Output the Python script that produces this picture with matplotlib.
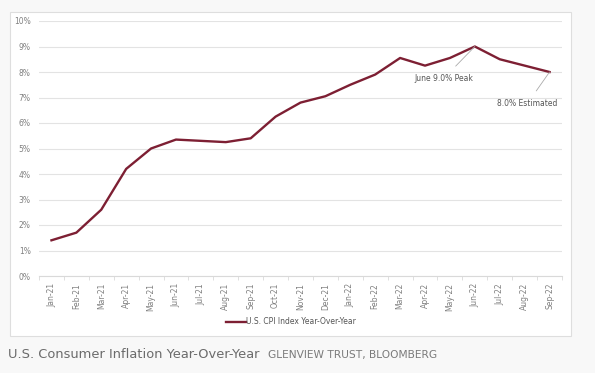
import matplotlib.pyplot as plt
from matplotlib.patches import Rectangle

months = ["Jan-21", "Feb-21", "Mar-21", "Apr-21", "May-21", "Jun-21", "Jul-21",
          "Aug-21", "Sep-21", "Oct-21", "Nov-21", "Dec-21", "Jan-22", "Feb-22",
          "Mar-22", "Apr-22", "May-22", "Jun-22", "Jul-22", "Aug-22", "Sep-22"]
cpi = [1.4, 1.7, 2.6, 4.2, 5.0, 5.35, 5.3, 5.25, 5.4, 6.25, 6.8, 7.05, 7.5, 7.9,
       8.55, 8.25, 8.55, 9.0, 8.5, 8.25, 8.0]
yticks = list(range(0, 11))

line_col = "#7d1f33"
gray = "#808080"

fig = plt.figure(figsize=(5.95, 3.73), dpi=100)
fig.patch.set_facecolor("#f8f8f8")

# white chart panel
W, H = 595, 373
fig.patches.append(Rectangle((10 / W, 1 - 336 / H), 561 / W, 324 / H,
                             transform=fig.transFigure, facecolor="white",
                             edgecolor="#dedede", linewidth=0.8, zorder=-5))

ax = fig.add_axes([39 / W, 1 - 276 / H, 523 / W, 255 / H])
ax.set_zorder(2)
ax.set_facecolor("white")
x = list(range(len(months)))
ax.plot(x, cpi, color=line_col, linewidth=1.7, label="U.S. CPI Index Year-Over-Year",
        zorder=3)

ax.set_xlim(-0.5, len(months) - 0.5)
ax.set_ylim(0, 10)
ax.set_yticks(yticks)
ax.set_yticklabels([f"{t}%" for t in yticks], fontsize=5.5, color=gray)
ax.set_xticks(x)
ax.set_xticklabels(months, rotation=90, fontsize=5.5, color=gray)
ax.set_xticks([i - 0.5 for i in range(len(months) + 1)], minor=True)
ax.tick_params(axis="x", which="major", length=0, pad=5)
ax.tick_params(axis="x", which="minor", length=3, color="#d9d9d9")
ax.tick_params(axis="y", length=0, pad=6)
ax.grid(axis="y", color="#e3e3e3", linewidth=0.8)
ax.set_axisbelow(True)
for s in ["top", "right", "left"]:
    ax.spines[s].set_visible(False)
ax.spines["bottom"].set_color("#d9d9d9")

ax.annotate("June 9.0% Peak", xy=(17, 9.0), xytext=(15.75, 7.75),
            fontsize=5.5, color="#555555", ha="center", va="center",
            arrowprops=dict(arrowstyle="-", color="#aaaaaa", linewidth=0.6,
                            shrinkA=5, shrinkB=0))
ax.annotate("8.0% Estimated", xy=(20, 8.0), xytext=(19.1, 6.75),
            fontsize=5.5, color="#555555", ha="center", va="center",
            arrowprops=dict(arrowstyle="-", color="#aaaaaa", linewidth=0.6,
                            shrinkA=5, shrinkB=0))

fig.legend(loc="center", bbox_to_anchor=(291 / W, 1 - 322 / H), frameon=False,
           fontsize=5.5, labelcolor="#555555", handlelength=2.6, handletextpad=0.1)

fig.text(8 / W, 1 - 355 / H, "U.S. Consumer Inflation Year-Over-Year",
         fontsize=9.4, color="#6b6b6b", va="center", ha="left")
fig.text(268 / W, 1 - 355 / H, "GLENVIEW TRUST, BLOOMBERG",
         fontsize=7.7, color="#7a7a7a", va="center", ha="left")

fig.savefig("out.png", dpi=100, facecolor=fig.get_facecolor())
